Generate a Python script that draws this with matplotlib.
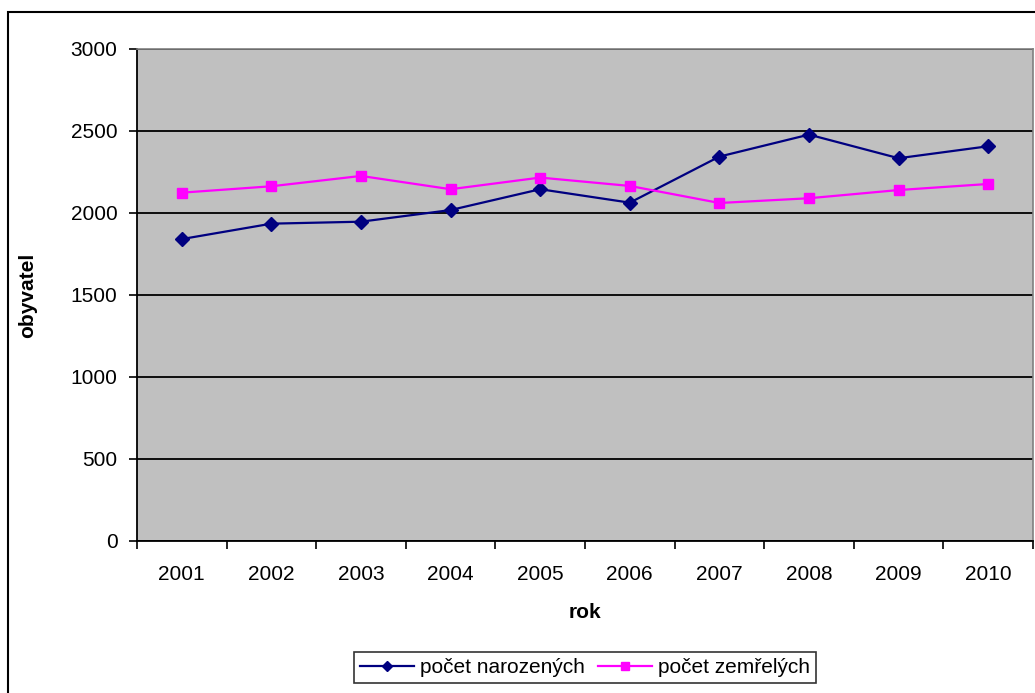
import numpy as np
import matplotlib.pyplot as plt
from matplotlib.patches import Rectangle

plt.rcParams['font.family'] = ['Liberation Sans', 'DejaVu Sans']

roky = ['2001', '2002', '2003', '2004', '2005', '2006', '2007', '2008', '2009', '2010']
narozeni = [1841, 1935, 1947, 2018, 2145, 2063, 2344, 2478, 2334, 2407]
zemreli = [2124, 2163, 2226, 2145, 2216, 2165, 2061, 2090, 2140, 2177]

fig = plt.figure(figsize=(10.35, 6.93), dpi=100)
# outer chart border
fig.patches.append(Rectangle((8/1035, -0.1), 1.2, 1 - 12/693 + 0.1,
                             transform=fig.transFigure, fill=False,
                             edgecolor='black', linewidth=1.5))

ax = fig.add_axes([137/1035, 1 - 541/693, 896/1035, 492/693])
ax.set_facecolor('#C0C0C0')

x = np.arange(len(roky))
ax.plot(x, narozeni, '-', color='#000080', lw=1.6, marker='D', ms=7,
        label='počet narozených')
ax.plot(x, zemreli, '-', color='#FF00FF', lw=1.6, marker='s', ms=7.5,
        label='počet zemřelých')

ax.set_xlim(-0.5, len(roky) - 0.5)
ax.set_ylim(0, 3000)
ax.set_yticks(np.arange(0, 3001, 500))
ax.yaxis.grid(True, color='black', lw=1.3)
ax.set_axisbelow(True)

ax.set_xticks(x)
ax.set_xticklabels(roky)
ax.set_xticks(np.arange(-0.5, len(roky)), minor=True)
ax.tick_params(axis='x', which='major', length=0, pad=17, labelsize=15)
ax.tick_params(axis='x', which='minor', length=6, width=1.2, direction='out')
ax.tick_params(axis='y', length=6, width=1.2, pad=8, labelsize=15)

for s in ['top', 'right']:
    ax.spines[s].set_color('#808080')
    ax.spines[s].set_linewidth(1.2)
for s in ['left', 'bottom']:
    ax.spines[s].set_color('black')
    ax.spines[s].set_linewidth(1.3)

ax.set_xlabel('rok', fontsize=15, fontweight='bold', labelpad=14)
ax.set_ylabel('obyvatel', fontsize=15, fontweight='bold', labelpad=24)

leg = ax.legend(loc='lower center', bbox_to_anchor=(0.5, -0.31), ncol=2,
                frameon=True, fancybox=False, fontsize=15,
                handlelength=2.6, handletextpad=0.3, columnspacing=0.6,
                borderpad=0.3, markerscale=0.8)
leg.get_frame().set_edgecolor('black')
leg.get_frame().set_linewidth(1.2)

fig.savefig('out.png', dpi=100)
